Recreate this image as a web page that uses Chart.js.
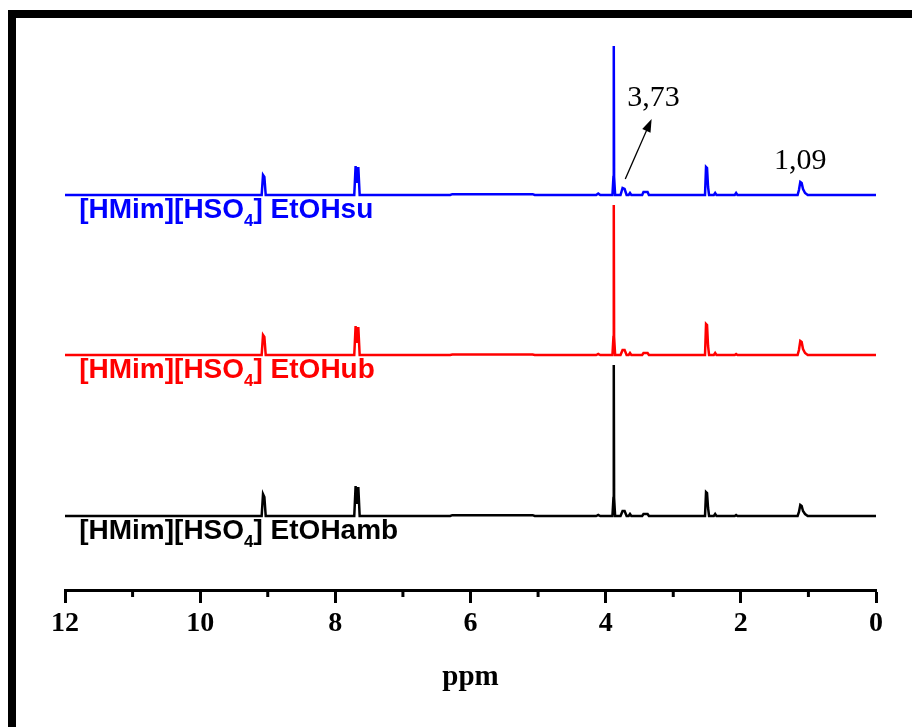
<!DOCTYPE html>
<html>
<head>
<meta charset="utf-8">
<script src="https://cdn.jsdelivr.net/npm/chart.js@4.4.1/dist/chart.umd.min.js"></script>
<style>
  html, body { margin: 0; padding: 0; background: #fff; }
  #wrap { width: 912px; height: 727px; }
</style>
</head>
<body>
<div id="wrap"><canvas id="nmr" width="912" height="727"></canvas></div>
<script>
// chemical shift (ppm), shared by the three spectra
const ppm = [12.00, 9.09, 9.07, 9.05, 9.03, 7.72, 7.70, 7.68, 7.66, 7.64,
  6.30, 6.27, 5.08, 5.05, 4.14, 4.11, 4.08, 3.90, 3.885, 3.88, 3.875, 3.86,
  3.78, 3.75, 3.72, 3.69, 3.66, 3.64, 3.62, 3.46, 3.44, 3.38, 3.36,
  2.53, 2.515, 2.50, 2.485, 2.47, 2.40, 2.38, 2.36, 2.09, 2.07, 2.05,
  1.16, 1.14, 1.12, 1.10, 1.08, 1.05, 1.01, 0.00];

// intensities (a.u.)
const etohSu = [0, 0, 20, 18, 0, 0, 29, 12, 28, 0,
  0, 0.8, 0.8, 0, 0, 1.5, 0, 0, 18, 149, 18, 0,
  0, 7, 6, 0, 0, 2, 0, 0, 3, 3, 0,
  0, 28, 27, 8, 0, 0, 2, 0, 0, 2, 0,
  0, 5, 13, 12, 6, 2, 0, 0];
const etohUb = [0, 0, 20, 18, 0, 0, 29, 12, 28, 0,
  0, 0.5, 0.5, 0, 0, 1, 0, 0, 18, 150, 18, 0,
  0, 5, 5, 0, 0, 2, 0, 0, 2, 2, 0,
  0, 31, 30, 9, 0, 0, 2, 0, 0, 1, 0,
  0, 5, 14, 13, 6, 2, 0, 0];
const etohAmb = [0, 0, 22, 19, 0, 0, 30, 12, 29, 0,
  0, 0.8, 0.8, 0, 0, 1, 0, 0, 18, 151, 18, 0,
  0, 5, 5, 0, 0, 2, 0, 0, 2, 2, 0,
  0, 24, 23, 8, 0, 0, 2, 0, 0, 1, 0,
  0, 4, 11, 10, 5, 2, 0, 0];

const seriesNames = ['EtOHsu', 'EtOHub', 'EtOHamb'];
const seriesColors = ['#0000ff', '#ff0000', '#000000'];
const stackOffsets = [395, 235, 74];
const xTicks = [12, 10, 8, 6, 4, 2, 0];

const series = [etohSu, etohUb, etohAmb];

const datasets = series.map((vals, i) => ({
  label: seriesNames[i],
  data: ppm.map((p, j) => ({ x: p, y: vals[j] + stackOffsets[i] })),
  borderColor: seriesColors[i],
  borderWidth: 2.5,
  pointRadius: 0,
  tension: 0,
  fill: false
}));

const framePlugin = {
  id: 'frame',
  beforeDraw(chart) {
    const ctx = chart.ctx;
    ctx.save();
    ctx.fillStyle = '#000';
    ctx.fillRect(8, 10, chart.width - 8, 8);
    ctx.fillRect(8, 10, 8, chart.height - 10);
    ctx.restore();
  }
};

const decorPlugin = {
  id: 'decor',
  afterDraw(chart) {
    const ctx = chart.ctx;
    const xs = chart.scales.x;
    const ys = chart.scales.y;

    // minor ticks
    ctx.save();
    ctx.strokeStyle = '#000';
    ctx.lineWidth = 3;
    for (let v = 11; v > 0; v -= 2) {
      const px = xs.getPixelForValue(v);
      ctx.beginPath();
      ctx.moveTo(px, xs.top);
      ctx.lineTo(px, xs.top + 7);
      ctx.stroke();
    }
    ctx.restore();

    // sample labels under each baseline
    ctx.save();
    ctx.textBaseline = 'alphabetic';
    series.forEach((_, i) => {
      let x = xs.getPixelForValue(11.79);
      const y = ys.getPixelForValue(stackOffsets[i]) + 23;
      ctx.fillStyle = seriesColors[i];
      ctx.font = 'bold 28px "Liberation Sans", Arial, sans-serif';
      ctx.fillText('[HMim][HSO', x, y);
      x += ctx.measureText('[HMim][HSO').width;
      ctx.font = 'bold 17px "Liberation Sans", Arial, sans-serif';
      ctx.fillText('4', x, y + 8);
      x += ctx.measureText('4').width;
      ctx.font = 'bold 28px "Liberation Sans", Arial, sans-serif';
      ctx.fillText('] ' + seriesNames[i], x, y);
    });
    ctx.restore();

    // peak annotations on the top spectrum
    const base = stackOffsets[0];
    ctx.save();
    ctx.fillStyle = '#000';
    ctx.font = '30px "Liberation Serif", "Times New Roman", serif';
    ctx.fillText('3,73', xs.getPixelForValue(3.68), ys.getPixelForValue(base + 89));
    ctx.fillText('1,09', xs.getPixelForValue(1.51), ys.getPixelForValue(base + 26));

    const x1 = xs.getPixelForValue(3.71), y1 = ys.getPixelForValue(base + 16);
    const x2 = xs.getPixelForValue(3.32), y2 = ys.getPixelForValue(base + 76);
    const ang = Math.atan2(y2 - y1, x2 - x1);
    ctx.strokeStyle = '#000';
    ctx.lineWidth = 1.3;
    ctx.beginPath();
    ctx.moveTo(x1, y1);
    ctx.lineTo(x2 - 8 * Math.cos(ang), y2 - 8 * Math.sin(ang));
    ctx.stroke();
    ctx.beginPath();
    ctx.moveTo(x2, y2);
    ctx.lineTo(x2 - 13 * Math.cos(ang) + 4.5 * Math.sin(ang), y2 - 13 * Math.sin(ang) - 4.5 * Math.cos(ang));
    ctx.lineTo(x2 - 13 * Math.cos(ang) - 4.5 * Math.sin(ang), y2 - 13 * Math.sin(ang) + 4.5 * Math.cos(ang));
    ctx.closePath();
    ctx.fill();
    ctx.restore();
  }
};

new Chart(document.getElementById('nmr'), {
  type: 'line',
  data: { datasets },
  options: {
    responsive: false,
    animation: false,
    layout: { padding: { left: 65, right: 36, top: 20, bottom: 0 } },
    plugins: {
      legend: { display: false },
      tooltip: { enabled: false }
    },
    scales: {
      x: {
        type: 'linear',
        reverse: true,
        min: 0,
        max: 12,
        afterFit(scale) { scale.height = 137; },
        border: { display: true, color: '#000', width: 3 },
        grid: {
          drawOnChartArea: false,
          drawTicks: true,
          tickLength: 13,
          tickWidth: 3,
          tickColor: '#000'
        },
        afterBuildTicks(scale) {
          scale.ticks = xTicks.map(v => ({ value: v }));
        },
        ticks: {
          padding: 4,
          color: '#000',
          maxRotation: 0,
          autoSkip: false,
          font: { family: '"Liberation Serif", "Times New Roman", serif', size: 28, weight: 'bold' }
        },
        title: {
          display: true,
          text: 'ppm',
          color: '#000',
          padding: { top: 0, bottom: 32 },
          font: { family: '"Liberation Serif", "Times New Roman", serif', size: 29, weight: 'bold' }
        }
      },
      y: {
        display: false,
        min: 0,
        max: 570
      }
    }
  },
  plugins: [framePlugin, decorPlugin]
});
</script>
</body>
</html>
